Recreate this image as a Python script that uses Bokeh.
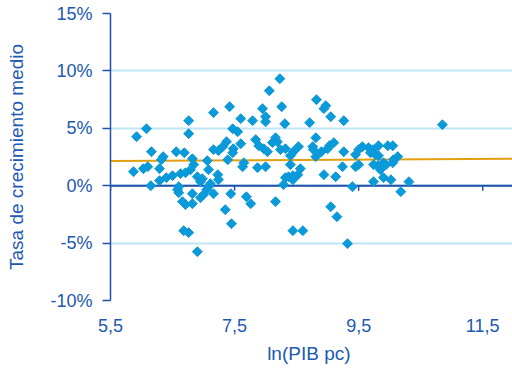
import numpy as np
from bokeh.plotting import figure
from bokeh.models import FixedTicker, CustomJSTickFormatter, Span, Range1d
from bokeh.embed import file_html
from bokeh.resources import INLINE

# ln(GDP per capita) and average growth rate (%)
ln_pib = [5.87, 5.92, 6.08, 6.03, 6.10, 6.15, 6.16, 6.29, 6.29, 6.35, 6.32, 6.40, 6.50, 6.56,
          6.60, 6.63, 6.69, 6.71, 6.76, 6.76, 6.79, 6.84, 6.82, 6.90, 6.95, 6.98, 7.06, 7.08,
          7.16, 7.24, 7.31, 7.37, 7.16, 7.42, 7.23, 7.24, 7.39, 6.58, 6.60, 6.66, 6.71, 6.82,
          6.82, 6.95, 7.00, 7.05, 7.08, 7.11, 7.16, 7.35, 7.44, 7.45, 6.68, 6.76, 6.90,
          7.47, 7.55, 7.60, 7.79, 7.95, 8.00, 8.00, 8.06, 8.23, 8.26, 8.31, 7.60, 7.48, 7.47,
          7.84, 7.89, 7.97, 8.03, 8.11, 8.16, 8.19, 8.24, 8.32, 8.40, 8.45, 8.53, 8.82, 8.94,
          8.97, 9.05, 8.71, 9.26, 8.81, 8.76, 8.77, 8.90, 9.00, 9.03, 9.10, 9.26, 8.81, 7.63,
          7.65, 7.87, 8.00, 8.40, 8.56, 8.32, 8.37, 8.44, 8.52, 8.29, 8.94, 9.13, 9.24, 7.69,
          7.76, 8.16, 8.44, 8.60, 9.05, 9.15, 9.32, 9.40, 8.44,
          9.45, 9.50, 9.56, 9.45, 9.50, 9.66, 9.69, 9.73, 9.82, 9.97, 10.05, 9.77, 9.82, 9.74,
          9.81, 9.90, 9.94, 9.85, 10.05, 10.06, 10.13, 9.90, 10.02, 9.74, 10.18, 10.31, 10.85]
growth = [1.22, 4.27, 4.96, 1.48, 1.65, 0.00, 2.96, 1.48, 0.44, 2.53, 2.26, 0.70, 0.87, 2.96,
          -0.09, 1.05, 2.87, 1.13, 5.66, 4.53, 1.39, 1.83, 2.35, 0.78, 0.35, 0.61, 2.18, 1.39,
          3.14, 3.05, 3.40, 3.83, 6.36, 6.88, 0.96, 0.52, 2.26, -0.35, -0.61, -1.39, -1.65, -0.70,
          -1.57, -1.05, -0.78, -0.35, -0.09, 0.17, -0.70, -2.09, -0.70, -3.31, -3.92, -4.09, -5.75,
          4.96, 4.70, 5.84, 5.66, 6.71, 6.01, 5.57, 8.27, 9.32, 6.88, 5.40, 3.66, 3.22, 2.87,
          4.01, 3.48, 3.22, 2.96, 3.75, 4.18, 3.83, 3.14, 3.22, 2.61, 2.96, 3.40, 7.49, 6.71,
          6.97, 6.01, 5.49, 5.66, 4.18, 3.40, 3.14, 2.96, 3.22, 3.48, 3.75, 2.96, 2.53, 1.65,
          2.00, 1.57, 1.65, 1.83, 1.48, 0.70, 0.78, 0.87, 0.96, 0.09, 0.96, 0.78, 1.65, -0.96,
          -1.57, -1.39, -3.92, -3.92, -1.83, -2.70, -5.05, -0.09, 0.52,
          2.70, 3.14, 3.40, 1.65, 1.83, 3.31, 2.87, 3.14, 3.48, 3.48, 3.48, 2.70, 2.61, 1.83,
          1.74, 2.00, 1.83, 1.39, 2.00, 2.26, 2.53, 0.70, 0.52, 0.35, -0.52, 0.35, 5.31]

trend_x = [5.5, 11.98]
trend_y = [2.15, 2.35]

x_ticks = [5.5, 7.5, 9.5, 11.5]
y_ticks = [-10, -5, 0, 5, 10, 15]

DARK = "#2150a8"
TEXT = "#2158b0"
GRID = "#bfe5f7"
POINT = "#0b9ad9"
ORANGE = "#e39e12"
FONT = "Liberation Sans"

p = figure(width=512, height=366, x_range=Range1d(5.5, 11.98), y_range=Range1d(-10, 15),
           output_backend="svg", toolbar_location=None,
           min_border_left=110, min_border_right=0, min_border_top=13, min_border_bottom=66)
p.outline_line_color = None
p.background_fill_color = "white"
p.border_fill_color = "white"

p.xgrid.visible = False
p.ygrid.ticker = FixedTicker(ticks=y_ticks)
p.ygrid.grid_line_color = GRID
p.ygrid.grid_line_width = 2

zero = Span(location=0, dimension="width", line_color=DARK, line_width=2, level="underlay")
p.add_layout(zero)

# ticks on the zero line
p.segment(x0=x_ticks, y0=[0] * len(x_ticks), x1=x_ticks, y1=[-0.45] * len(x_ticks),
          line_color=DARK, line_width=1.5)

p.line(trend_x, trend_y, line_color=ORANGE, line_width=2)
p.scatter(ln_pib, growth, marker="square", angle=np.pi / 4, size=7,
          fill_color=POINT, line_color=POINT)

# y axis
ya = p.yaxis[0]
ya.ticker = FixedTicker(ticks=y_ticks)
ya.formatter = CustomJSTickFormatter(code="return tick + '%';")
ya.axis_line_color = DARK
ya.axis_line_width = 1.5
ya.major_tick_line_color = DARK
ya.major_tick_line_width = 1.5
ya.major_tick_out = 8
ya.major_tick_in = 0
ya.minor_tick_line_color = None
ya.major_label_text_color = TEXT
ya.major_label_text_font = FONT
ya.major_label_text_font_size = "18px"
ya.major_label_standoff = 10
ya.axis_label = "Tasa de crecimiento medio"
ya.axis_label_text_color = TEXT
ya.axis_label_text_font = FONT
ya.axis_label_text_font_size = "19px"
ya.axis_label_text_font_style = "normal"
ya.axis_label_standoff = 20

# x axis
xa = p.xaxis[0]
xa.ticker = FixedTicker(ticks=x_ticks)
xa.formatter = CustomJSTickFormatter(code="return tick.toFixed(1).replace('.', ',');")
xa.axis_line_color = None
xa.major_tick_line_color = None
xa.minor_tick_line_color = None
xa.major_tick_out = 0
xa.major_tick_in = 0
xa.major_label_text_color = TEXT
xa.major_label_text_font = FONT
xa.major_label_text_font_size = "18px"
xa.major_label_standoff = 18
xa.axis_label = "ln(PIB  pc)"
xa.axis_label_text_color = TEXT
xa.axis_label_text_font = FONT
xa.axis_label_text_font_size = "19px"
xa.axis_label_text_font_style = "normal"
xa.axis_label_standoff = 8

open("out.html", "w").write(file_html(p, INLINE))
